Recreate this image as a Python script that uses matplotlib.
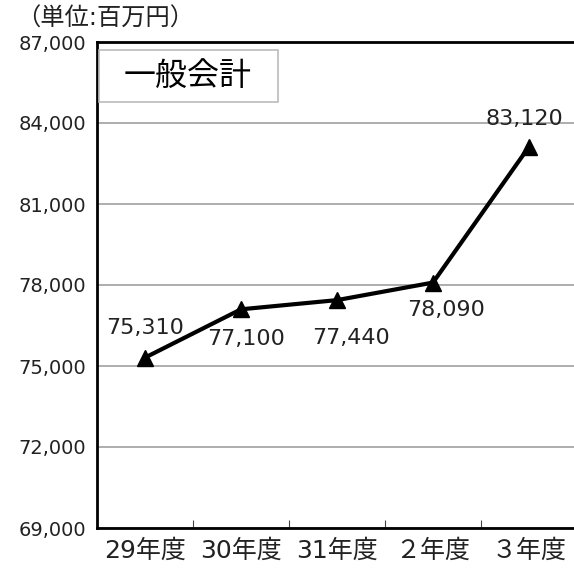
import matplotlib
matplotlib.use('Agg')
import matplotlib.pyplot as plt
from matplotlib.patches import Rectangle
from matplotlib.ticker import FuncFormatter, FixedLocator

plt.rcParams['font.family'] = ['DejaVu Sans', 'Noto Sans CJK JP']

years = ['29年度', '30年度', '31年度', '２年度', '３年度']
values = [75310, 77100, 77440, 78090, 83120]
# label offsets in pixels (dx, dy) relative to marker
label_offsets = [(0, 30), (5, -30), (14, -38), (13, -27), (-5, 28)]

fig = plt.figure(figsize=(5.74, 5.71), dpi=100)
ax = fig.add_axes([97 / 574, 43 / 571, 480 / 574, 486 / 571])

xs = list(range(len(years)))
ax.plot(xs, values, color='black', lw=3, marker='^', markersize=11, zorder=3, clip_on=False)

for x, v, (dx, dy) in zip(xs, values, label_offsets):
    ax.annotate(f'{v:,}', (x, v), xytext=(dx, dy), textcoords='offset pixels',
                ha='center', va='center', fontsize=16, color='#222222')

ax.set_xlim(-0.5, 4.5)
ax.set_ylim(69000, 87000)
ax.set_yticks(range(69000, 87001, 3000))
ax.yaxis.set_major_formatter(FuncFormatter(lambda v, p: f'{int(v):,}'))
ax.grid(axis='y', color='#a0a0a0', lw=1.2)
ax.set_axisbelow(True)

ax.set_xticks(xs)
ax.set_xticklabels(years, fontsize=18, color='#222222')
ax.xaxis.set_minor_locator(FixedLocator([0.5, 1.5, 2.5, 3.5]))
ax.tick_params(axis='x', which='major', length=0, pad=8)
ax.tick_params(axis='x', which='minor', direction='in', length=6, width=0.8, color='#444444')
ax.tick_params(axis='y', length=0, pad=8, labelsize=14, labelcolor='#222222')

for s in ['left', 'bottom', 'top']:
    ax.spines[s].set_linewidth(2)
ax.spines['right'].set_visible(False)

ax.add_patch(Rectangle((0.004, 0.8765), 0.373, 0.107, transform=ax.transAxes,
                       facecolor='white', edgecolor='#bbbbbb', lw=1.2, zorder=4))
ax.text(0.1885, 0.930, '一般会計', transform=ax.transAxes, ha='center', va='center',
        fontsize=23, zorder=5)

fig.text(16 / 574, 1 - 19 / 571, '（単位:百万円）', ha='left', va='center', fontsize=17.5,
         color='#222222')

fig.savefig('out.png', dpi=100)
